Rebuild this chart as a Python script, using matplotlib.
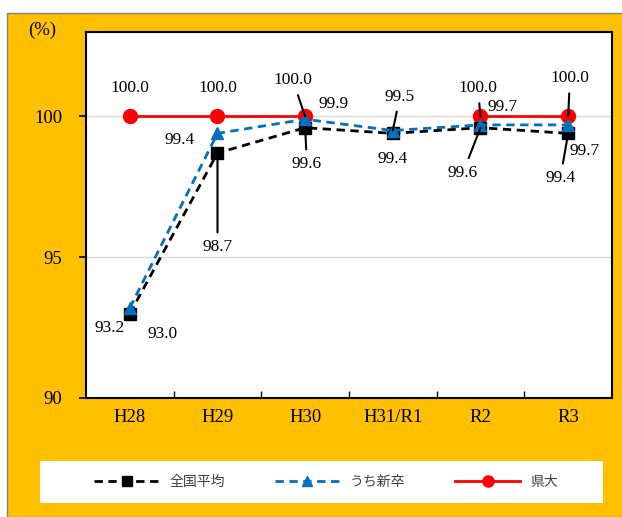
import matplotlib
matplotlib.use('Agg')
import matplotlib.pyplot as plt
from matplotlib.patches import Rectangle
from matplotlib.lines import Line2D

years = ['H28', 'H29', 'H30', 'H31/R1', 'R2', 'R3']
zenkoku = [93.0, 98.7, 99.6, 99.4, 99.6, 99.4]
shinsotsu = [93.2, 99.4, 99.9, 99.5, 99.7, 99.7]
kendai = [100.0, 100.0, 100.0, float('nan'), 100.0, 100.0]
names = ['全国平均', 'うち新卒', '県大']

# label placement (dx, dy in data units), leader line flag
zk_off = [(0.37, -0.73, False), (0.0, -3.35, True), (0.02, -1.3, True),
          (0.0, -0.9, False), (-0.2, -1.6, True), (-0.09, -1.6, True)]
ss_off = [(-0.23, -0.72, False), (-0.43, -0.25, False), (0.32, 0.56, False),
          (0.08, 1.2, True), (0.25, 0.62, False), (0.19, -0.91, False)]
kd_off = [(0.0, 1.0, False), (0.0, 1.0, False), (-0.14, 1.28, True),
          None, (-0.03, 1.0, True), (0.02, 1.35, True)]

serif = 'Liberation Serif'
yellow = '#FFC000'
blue = '#0070C0'

fig = plt.figure(figsize=(6.22, 5.17), dpi=100)
fig.patch.set_facecolor('white')
fig.add_artist(Rectangle((7 / 622, 0), 1, 1 - 13 / 517, transform=fig.transFigure,
                         facecolor=yellow, edgecolor='#808080', lw=1, zorder=-10))
fig.add_artist(Rectangle((40 / 622, 14 / 517), 563 / 622, 42 / 517, transform=fig.transFigure,
                         facecolor='white', edgecolor='none', zorder=-5))

ax = fig.add_axes([86 / 622, 1 - 398 / 517, 526 / 622, 366 / 517])
ax.set_facecolor('white')
x = list(range(len(years)))

ax.plot(x, zenkoku, color='black', ls=(0, (3, 2)), lw=2, marker='s', ms=8, zorder=3)
ax.plot(x, shinsotsu, color=blue, ls=(0, (3, 2)), lw=2, marker='^', ms=8, zorder=4)
ax.plot(x, kendai, color='red', ls='-', lw=2, marker='o', ms=10, zorder=2)

def label(vals, offs):
    for i, v in enumerate(vals):
        o = offs[i]
        if o is None:
            continue
        dx, dy, lead = o
        ax.annotate('%.1f' % v, xy=(i, v), xytext=(i + dx, v + dy),
                    ha='center', va='center', fontsize=12.5, family=serif,
                    arrowprops=dict(arrowstyle='-', color='black', lw=1.5,
                                    shrinkA=3, shrinkB=0) if lead else None,
                    zorder=6)

label(kendai, kd_off)
label(shinsotsu, ss_off)
label(zenkoku, zk_off)

ax.set_xlim(-0.5, 5.5)
ax.set_ylim(90, 103)
ax.set_yticks([90, 95, 100])
ax.set_yticklabels(['90', '95', '100'], family=serif, fontsize=13.5)
ax.set_xticks(x)
ax.set_xticklabels(years, family=serif, fontsize=13.5)
ax.tick_params(axis='x', length=0, pad=8)
ax.tick_params(axis='y', direction='out', length=5, width=1.2, pad=12)
ax.set_xticks([i + 0.5 for i in range(5)], minor=True)
ax.tick_params(axis='x', which='minor', direction='in', length=5, width=1)
ax.grid(axis='y', color='#D9D9D9', lw=1)
ax.set_axisbelow(True)
for s in ax.spines.values():
    s.set_linewidth(1.5)

fig.text(42 / 622, 1 - 30 / 517, '(%)', family=serif, fontsize=13.5, ha='center', va='center')

handles = [
    Line2D([], [], color='black', ls=(0, (3, 2)), lw=2, marker='s', ms=7),
    Line2D([], [], color=blue, ls=(0, (3, 2)), lw=2, marker='^', ms=7),
    Line2D([], [], color='red', ls='-', lw=2, marker='o', ms=8),
]
leg = fig.legend(handles, names, loc='center', bbox_to_anchor=(326 / 622, 35 / 517),
                 ncol=3, frameon=False, handlelength=4.7, handletextpad=0.7,
                 columnspacing=3.6, prop={'family': 'Noto Sans CJK JP', 'size': 10})
for t in leg.get_texts():
    t.set_color('#404040')

fig.savefig('out.png', dpi=100, facecolor=fig.get_facecolor())
